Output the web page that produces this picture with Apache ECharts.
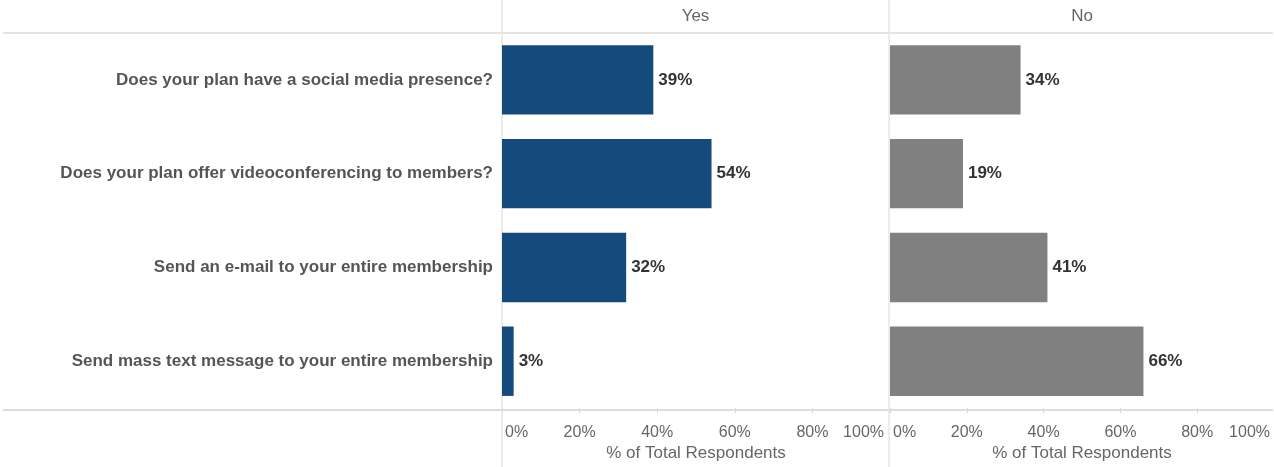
<!DOCTYPE html>
<html>
<head>
<meta charset="utf-8">
<script src="https://cdn.jsdelivr.net/npm/echarts@6/dist/echarts.min.js"></script>
<style>html,body{margin:0;padding:0;background:#fff;}#c{width:1274px;height:467px;}</style>
</head>
<body>
<div id="c"></div>
<script>
var categories = [
  "Does your plan have a social media presence?",
  "Does your plan offer videoconferencing to members?",
  "Send an e-mail to your entire membership",
  "Send mass text message to your entire membership"
];
var panels = ["Yes", "No"];
var yesValues = [39, 54, 32, 3];
var noValues = [34, 19, 41, 66];
var tickValues = [0, 20, 40, 60, 80, 100];

var FONT = 'Arial, "Liberation Sans", sans-serif';
var chart = echarts.init(document.getElementById('c'), null, {renderer: 'canvas'});

function xAx(gi, padMax) {
  var minV = tickValues[0], maxV = tickValues[tickValues.length - 1];
  var base = {color: '#666', fontFamily: FONT, fontSize: 16};
  return {
    gridIndex: gi, type: 'value', min: minV, max: maxV, interval: 20,
    axisLine: {show: false},
    axisTick: {show: true, length: 5, lineStyle: {color: '#d9d9d9', width: 1}},
    splitLine: {show: false},
    axisLabel: {
      formatter: function (v) {
        if (v === minV) return '{lo|' + v + '%}';
        if (v === maxV) return '{hi|' + v + '%}';
        return v + '%';
      },
      rich: {
        lo: Object.assign({padding: [0, 0, 0, 3]}, base),
        hi: Object.assign({padding: [0, padMax, 0, 0]}, base)
      },
      color: '#666', fontFamily: FONT, fontSize: 16, margin: 16,
      alignMinLabel: 'left', alignMaxLabel: 'right'
    },
    name: '% of Total Respondents', nameLocation: 'middle', nameGap: 36,
    nameTextStyle: {color: '#666', fontFamily: FONT, fontSize: 17}
  };
}
function yAx(gi, showLabels) {
  return {
    gridIndex: gi, type: 'category', data: categories, inverse: true,
    axisLine: {show: false}, axisTick: {show: false},
    axisLabel: {show: showLabels, color: '#555', fontWeight: 'bold', fontFamily: FONT, fontSize: 17, margin: 9}
  };
}
function lbl() {
  return {show: true, position: 'right', distance: 5, formatter: '{c}%', color: '#333',
    fontWeight: 'bold', fontFamily: FONT, fontSize: 17};
}

chart.setOption({
  animation: false,
  grid: [
    {left: 502, width: 388, top: 33, bottom: 57},
    {left: 890, width: 386, top: 33, bottom: 57}
  ],
  xAxis: [xAx(0, 6), xAx(1, 4)],
  yAxis: [yAx(0, true), yAx(1, false)],
  series: [
    {type: 'bar', xAxisIndex: 0, yAxisIndex: 0, data: yesValues, barCategoryGap: '26%',
      itemStyle: {color: '#154a7c'}, label: lbl()},
    {type: 'bar', xAxisIndex: 1, yAxisIndex: 1, data: noValues, barCategoryGap: '26%',
      itemStyle: {color: '#808080'}, label: lbl()}
  ],
  graphic: [
    {type: 'line', silent: true, z: -1, shape: {x1: 3, y1: 33, x2: 1273, y2: 33}, style: {stroke: '#e3e3e3', lineWidth: 2}},
    {type: 'line', silent: true, z: -1, shape: {x1: 3, y1: 410, x2: 1273, y2: 410}, style: {stroke: '#dcdcdc', lineWidth: 2}},
    {type: 'line', silent: true, z: -1, shape: {x1: 502, y1: 0, x2: 502, y2: 467}, style: {stroke: '#e6e6e6', lineWidth: 1.5}},
    {type: 'line', silent: true, z: -1, shape: {x1: 889, y1: 0, x2: 889, y2: 467}, style: {stroke: '#e6e6e6', lineWidth: 1.5}},
    {type: 'text', x: 695.5, y: 16, style: {text: panels[0], fill: '#666', font: '17px ' + FONT, textAlign: 'center', textVerticalAlign: 'middle'}},
    {type: 'text', x: 1082, y: 16, style: {text: panels[1], fill: '#666', font: '17px ' + FONT, textAlign: 'center', textVerticalAlign: 'middle'}}
  ]
});
</script>
</body>
</html>
